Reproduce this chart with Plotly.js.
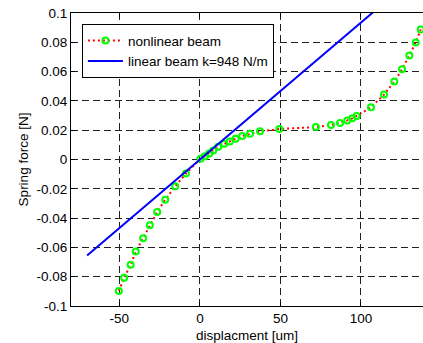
<!DOCTYPE html>
<html>
<head>
<meta charset="utf-8">
<script src="https://cdn.plot.ly/plotly-3.0.1.min.js"></script>
<style>html,body{margin:0;padding:0;background:#fff;}#chart{width:423px;height:343px;}</style>
</head>
<body>
<div id="chart"></div>
<script>
// Nonlinear beam measured points (displacement in um, force in N)
const nonlinX = [-50.3, -47.0, -43.0, -39.8, -35.2, -31.1, -26.5, -21.5, -15.3, -8.7,
  0.4, 3.1, 5.8, 8.3, 11.4, 15.1, 18.6, 22.2, 26.3, 31.1, 37.3, 49.3,
  72.0, 81.4, 87.0, 91.5, 94.6, 97.3, 106.2, 114.3, 120.7, 125.5, 130.0, 134.0, 137.1];
const nonlinY = [-0.0897, -0.0808, -0.0719, -0.0628, -0.0537, -0.0448, -0.0358, -0.0274, -0.0183, -0.0096,
  0.0005, 0.0023, 0.0041, 0.0062, 0.0087, 0.0107, 0.0123, 0.0142, 0.0160, 0.0176, 0.0192, 0.0208,
  0.0221, 0.0235, 0.0250, 0.0267, 0.0281, 0.0297, 0.0356, 0.0443, 0.0532, 0.0616, 0.0710, 0.0799, 0.0888];

// Linear beam k=948 N/m
const linX = [-70, 120];
const linY = [-0.0655, 0.1122];

const xTickVals = [-50, 0, 50, 100];
const xTickText = ['-50', '0', '50', '100'];
const yTickVals = [-0.1, -0.08, -0.06, -0.04, -0.02, 0, 0.02, 0.04, 0.06, 0.08, 0.1];
const yTickText = ['-0.1', '-0.08', '-0.06', '-0.04', '-0.02', '0', '0.02', '0.04', '0.06', '0.08', '0.1'];

const FONT = '"Liberation Sans", Arial, Helvetica, sans-serif';

const traces = [
  {
    x: nonlinX, y: nonlinY, type: 'scatter', mode: 'lines+markers',
    name: 'nonlinear beam',
    line: {color: '#ff0000', width: 2, dash: '2px,3px'},
    marker: {symbol: 'circle-open', size: 6, color: '#00ff00', line: {color: '#00ff00', width: 2}}
  },
  {
    x: linX, y: linY, type: 'scatter', mode: 'lines',
    name: 'linear beam k=948 N/m',
    line: {color: '#0000ff', width: 2}
  }
];

const axisCommon = {
  showline: true, linecolor: '#000', linewidth: 1,
  ticks: 'inside', ticklen: 4, tickcolor: '#000', tickwidth: 1,
  showgrid: true, gridcolor: '#222', gridwidth: 1, griddash: '7px,4px',
  zeroline: false,
  tickfont: {family: FONT, size: 13.5, color: '#000'}
};

const layout = {
  width: 423, height: 343,
  margin: {l: 71, r: 0, t: 13, b: 37, pad: 0},
  paper_bgcolor: '#fff', plot_bgcolor: '#fff',
  font: {family: FONT, size: 13.5, color: '#000'},
  showlegend: true,
  legend: {
    x: 0.031, y: 0.962, xanchor: 'left', yanchor: 'top',
    bgcolor: '#fff', bordercolor: '#000', borderwidth: 1,
    font: {family: FONT, size: 13.5, color: '#000'},
    tracegroupgap: 0, itemwidth: 35
  },
  xaxis: Object.assign({}, axisCommon, {
    range: [-80, 138.5], mirror: 'ticks',
    tickmode: 'array', tickvals: xTickVals, ticktext: xTickText,
    title: {text: 'displacment [um]', font: {family: FONT, size: 13.5, color: '#000'}, standoff: 5}
  }),
  yaxis: Object.assign({}, axisCommon, {
    range: [-0.1, 0.1], mirror: false,
    tickmode: 'array', tickvals: yTickVals, ticktext: yTickText,
    title: {text: 'Spring force [N]', font: {family: FONT, size: 13.5, color: '#000'}, standoff: 4}
  })
};

Plotly.newPlot('chart', traces, layout, {staticPlot: true, displayModeBar: false});
</script>
</body>
</html>
